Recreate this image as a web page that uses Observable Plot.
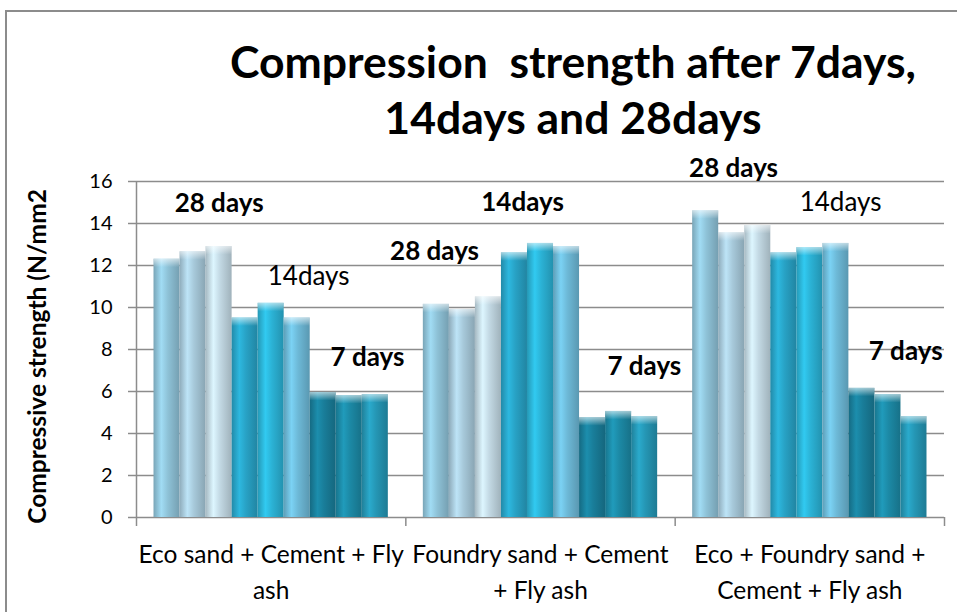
<!DOCTYPE html>
<html><head><meta charset="utf-8">
<script src="https://cdn.jsdelivr.net/npm/d3@7"></script>
<script src="https://cdn.jsdelivr.net/npm/@observablehq/plot@0.6"></script>
<style>
body{margin:0;background:#fff;font-family:Lato,sans-serif;}
#wrap{position:relative;width:957px;height:612px;overflow:hidden;background:#fff;}
#border{position:absolute;left:5px;top:10px;width:980px;height:640px;border-top:2px solid #8c8c8c;border-left:2px solid #8c8c8c;pointer-events:none;}
#title{position:absolute;left:189px;right:0;top:33px;text-align:center;font-weight:700;font-size:44.5px;line-height:56px;color:#000;white-space:pre;}
#plot{position:absolute;left:0;top:150px;}
#plot g[aria-label^="y-axis"] line, #plot g[aria-label^="y-axis"] path,
#plot g[aria-label^="x-axis"] line, #plot g[aria-label^="x-axis"] path{stroke:#8c8c8c;stroke-width:1.5;}
</style></head><body>
<div id="wrap">
<div id="title">Compression  strength after 7days,
14days and 28days</div>
<div id="plot"></div>
<div id="border"></div>
</div>
<script>
// Categories (mixes) and their displayed tick labels
const categories = ["Eco sand + Cement + Fly ash", "Foundry sand + Cement + Fly ash", "Eco + Foundry sand + Cement + Fly ash"];
const tickLabels = ["Eco sand + Cement + Fly\nash", "Foundry sand + Cement\n+ Fly ash", "Eco + Foundry sand +\nCement + Fly ash"];
// Three specimens per age, per category (N/mm2)
const days28 = [[12.3, 12.65, 12.9], [10.15, 9.9, 10.5], [14.6, 13.55, 13.9]];
const days14 = [[9.5, 10.2, 9.5], [12.6, 13.05, 12.9], [12.6, 12.85, 13.05]];
const days7  = [[5.95, 5.8, 5.85], [4.75, 5.05, 4.8], [6.15, 5.85, 4.8]];
const yTicks = [0, 2, 4, 6, 8, 10, 12, 14, 16];
const yLabel = "Compressive strength (N/mm2";
// Free-floating text labels: category, bar slot, value level
const annotations = [
  {cat: 0, slot: 2.0,  level: 14.95, text: "28 days", bold: true},
  {cat: 0, slot: 5.44, level: 11.48, text: "14days", bold: false},
  {cat: 0, slot: 7.7,  level: 7.62,  text: "7 days", bold: true},
  {cat: 1, slot: -0.07,level: 12.67, text: "28 days", bold: true},
  {cat: 1, slot: 3.31, level: 15.0,  text: "14days", bold: true},
  {cat: 1, slot: 7.99, level: 7.19,  text: "7 days", bold: true},
  {cat: 2, slot: 1.07, level: 16.62, text: "28 days", bold: true},
  {cat: 2, slot: 5.18, level: 15.0,  text: "14days", bold: false},
  {cat: 2, slot: 7.68, level: 7.9,   text: "7 days", bold: true}
];
const barColors = ["#8ec2d7", "#a7c9da", "#c3d9e4", "#28a2c5", "#2bb2d5", "#6db9d7", "#197d99", "#1c89a5", "#2596b4"];

const pad = 0.065, bw = (1 - 2 * pad) / 9;
const slotX = (cat, slot) => cat + pad + (slot + 0.5) * bw;
const bars = [];
categories.forEach((cat, i) => {
  [...days28[i], ...days14[i], ...days7[i]].forEach((v, j) => {
    bars.push({cat, i, slot: j, value: v});
  });
});

const annoOpts = {
  x: d => slotX(d.cat, d.slot),
  y: "level",
  text: "text",
  fontSize: 26,
  fill: "#000"
};

const svg = Plot.plot({
  width: 957,
  height: 462,
  marginTop: 31,
  marginBottom: 95,
  marginLeft: 136,
  marginRight: 13,
  style: {fontFamily: "Lato, sans-serif", fontSize: "20px", color: "#000", background: "transparent", overflow: "visible"},
  x: {domain: [0, 3], ticks: [0, 1, 2, 3], tickFormat: () => "", tickSize: 9, label: null},
  y: {domain: [0, 16], ticks: yTicks, tickSize: 8, tickPadding: 16, label: null},
  color: {type: "identity"},
  marks: [
    Plot.ruleY(yTicks, {x1: d => 0, x2: d => 3, stroke: "#8c8c8c", strokeWidth: 1.5}),
    Plot.ruleX([0], {stroke: "#8c8c8c", strokeWidth: 1.5}),
    Plot.rect(bars, {
      x1: d => d.i + pad + d.slot * bw,
      x2: d => d.i + pad + (d.slot + 1) * bw,
      y1: d => 0,
      y2: "value",
      fill: d => `url(#grad${d.slot})`
    }),
    Plot.rect(bars, {
      x1: d => d.i + pad + d.slot * bw,
      x2: d => d.i + pad + (d.slot + 1) * bw,
      y1: d => d.value - 0.4,
      y2: "value",
      fill: d => "url(#cap)"
    }),
    Plot.text(annotations.filter(d => d.bold), {...annoOpts, fontWeight: "bold"}),
    Plot.text(annotations.filter(d => !d.bold), {...annoOpts, fontWeight: "normal"}),
    Plot.text(categories, {
      x: (d, i) => i + 0.5,
      y: d => 0,
      text: (d, i) => tickLabels[categories.indexOf(d)],
      lineAnchor: "top",
      dy: 20,
      fontSize: 24.5,
      lineHeight: 1.47,
      fill: "#000"
    }),
    Plot.text([yLabel], {
      x: d => 0,
      y: d => 7.67,
      rotate: -90,
      dx: -98,
      text: d => d,
      fontSize: 24.5,
      fontWeight: "bold",
      fill: "#000"
    })
  ]
});

const defs = d3.select(svg).insert("defs", ":first-child");
barColors.forEach((c, j) => {
  const g = defs.append("linearGradient").attr("id", "grad" + j)
    .attr("x1", 0).attr("x2", 1).attr("y1", 0).attr("y2", 0);
  const base = d3.color(c);
  [[0, base.darker(0.45)], [0.3, base.brighter(0.35)], [0.55, base], [1, base.darker(0.55)]]
    .forEach(([o, col]) => g.append("stop").attr("offset", o).attr("stop-color", col.formatHex()));
});
const cap = defs.append("linearGradient").attr("id", "cap")
  .attr("x1", 0).attr("x2", 0).attr("y1", 0).attr("y2", 1);
cap.append("stop").attr("offset", 0).attr("stop-color", "#fff").attr("stop-opacity", 0.6);
cap.append("stop").attr("offset", 1).attr("stop-color", "#fff").attr("stop-opacity", 0);

document.getElementById("plot").appendChild(svg);
</script>
</body></html>
